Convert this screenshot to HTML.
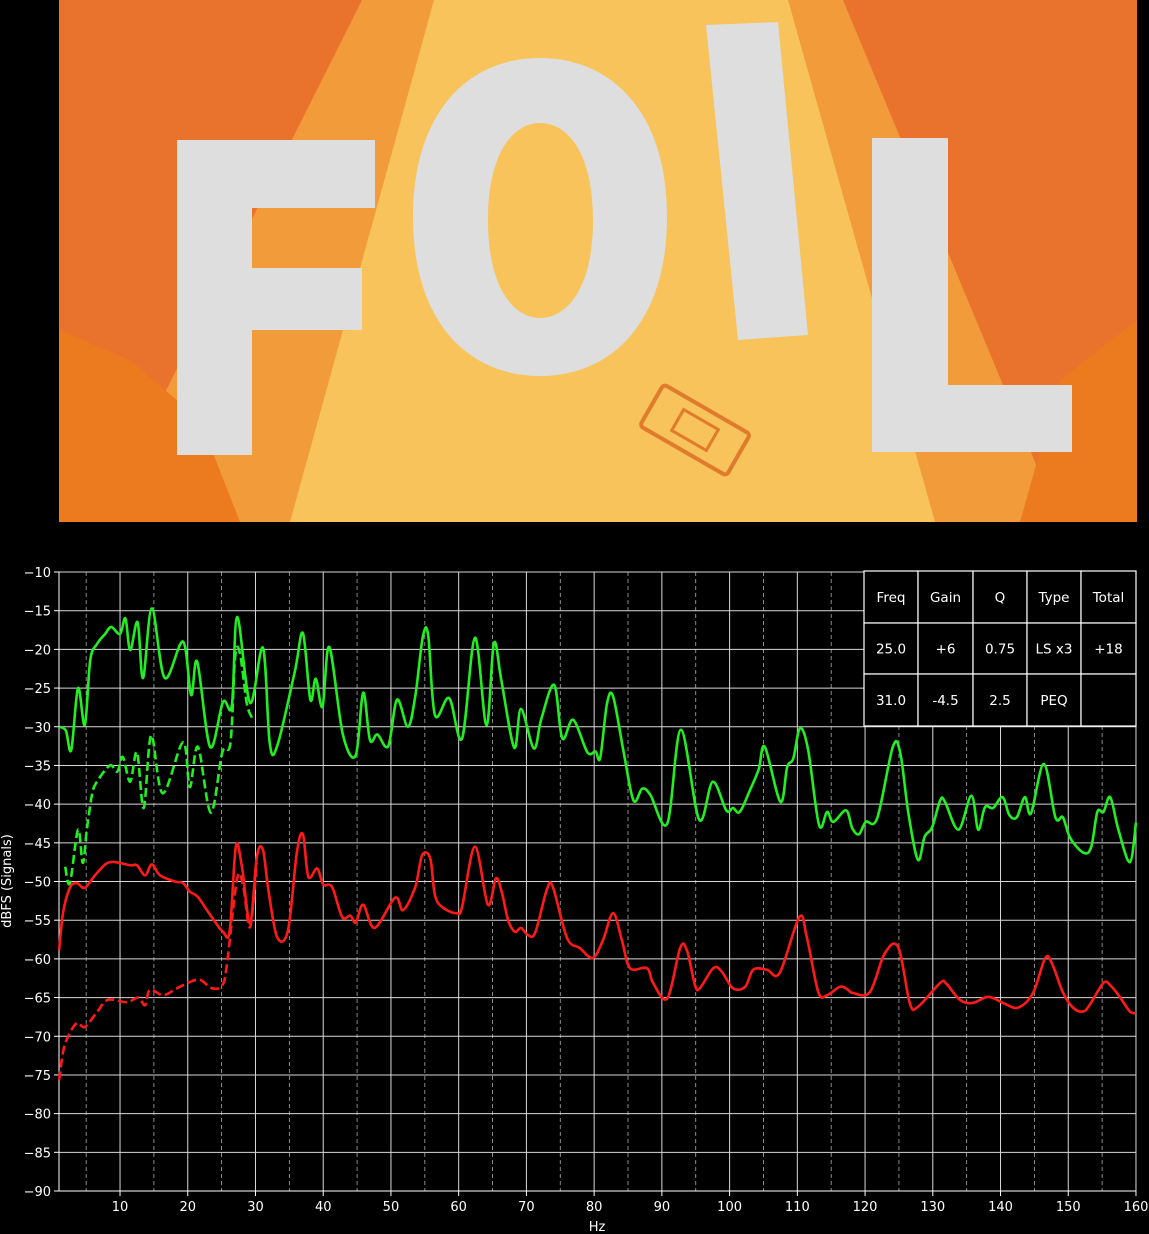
<!DOCTYPE html>
<html><head><meta charset="utf-8">
<style>
html,body{margin:0;padding:0;background:#000;width:1149px;height:1234px;overflow:hidden}
svg{display:block}
text{font-family:"DejaVu Sans","Liberation Sans",sans-serif}
</style></head>
<body>
<svg id="root" width="1149" height="1234" xmlns="http://www.w3.org/2000/svg">
  <defs><clipPath id="imgclip"><rect x="59" y="0" width="1078" height="522"/></clipPath></defs>
  <g clip-path="url(#imgclip)">
    <rect x="59" y="0" width="1078" height="522" fill="#e9722c"/>
    <polygon points="362,0 843,0 1060,522 100,522" fill="#f29b3a"/>
    <polygon points="434,0 788,0 935,522 290,522" fill="#f7c35a"/>
    <polygon points="59,330 130,360 200,420 240,522 59,522" fill="#ec7a1e"/>
    <polygon points="1137,320 1060,380 1020,522 1137,522" fill="#ec7a1e"/>
    <g fill="#dedede">
      <polygon points="177,140 375,140 375,208 252,208 252,268 362,268 362,330 252,330 252,455 177,455"/>
      <path d="M540,58 C610,58 667,110 667,217 C667,324 610,376 540,376 C470,376 413,324 413,217 C413,110 470,58 540,58 Z M540,123 C515,123 488,150 488,220 C488,290 515,318 540,318 C566,318 593,290 593,220 C593,150 566,123 540,123 Z" fill-rule="evenodd"/>
      <polygon points="706,25 778,22 808,335 738,340"/>
      <polygon points="872,138 948,138 948,385 1072,385 1072,452 872,452"/>
    </g>
    <g transform="translate(695,430) rotate(30)">
      <rect x="-50" y="-24" width="100" height="48" rx="4" fill="none" stroke="#e07a2c" stroke-width="4"/>
      <rect x="-20" y="-12" width="40" height="24" fill="none" stroke="#e07a2c" stroke-width="3"/>
    </g>
  </g>
  <g id="chart"></g>
</svg>
<script>
const NS='http://www.w3.org/2000/svg';
const xTicks=[10,20,30,40,50,60,70,80,90,100,110,120,130,140,150,160];
const xMinor=[5,15,25,35,45,55,65,75,85,95,105,115,125,135,145,155];
const yTicks=[-10,-15,-20,-25,-30,-35,-40,-45,-50,-55,-60,-65,-70,-75,-80,-85,-90];
const greenFreq=[1,2,2.8,3.8,4.8,5.6,6.6,7.8,8.7,10,10.8,11.5,12.6,13.4,14.7,16.6,19.3,20.5,21.4,23.3,25.2,26.5,27.3,29.2,31.1,32.1,33.2,35.8,37,38.1,38.9,39.9,40.9,42.9,44.8,45.9,46.9,48,49.6,50.9,52.5,53.6,54.7,55.5,56.5,58.6,60.5,62.4,64.1,65.2,66.3,68.2,69.2,71.1,72.2,74.1,75.3,76.9,79,80.2,80.9,81.9,82.8,84.3,85.8,87.1,88.3,90.8,92.8,95.5,97.5,99.5,100.5,101.5,103,104.3,105.2,107.5,108.5,109.4,110.4,111.6,113.2,114.4,115.3,117.2,118.1,119.1,120.1,121.8,124.1,125.2,126.4,127.8,128.8,129.9,131.1,131.8,133.8,135.7,136.7,137.7,138.9,140.3,141.3,142.4,143.6,144.5,146.4,148.1,149.2,150.3,152.3,153.4,154.3,155.2,156.2,157.4,159.1,160];
const greenDb=[-30,-30.5,-33,-25,-29.8,-21.4,-19.3,-18,-17.1,-18,-16,-20.1,-16.5,-23.7,-14.7,-23.7,-19,-25.9,-21.6,-32.6,-26.8,-27.3,-15.8,-26.9,-19.8,-32.1,-32.5,-22.9,-17.9,-26.5,-23.8,-27.4,-19.7,-31,-33.7,-25.6,-31.7,-31,-32.5,-26.5,-30,-26,-18.4,-18.2,-28.5,-26.3,-31.5,-18.5,-29.8,-19.2,-24,-32.7,-27.7,-32.8,-29,-24.6,-31.5,-29.1,-33.3,-33.2,-34,-27,-26.1,-33,-39.5,-38,-38.8,-42.5,-30.4,-42,-37.1,-40.8,-40.5,-41,-38.2,-35.5,-32.6,-39.7,-35.2,-34.1,-30.2,-33,-42.7,-41,-42.3,-40.8,-43.1,-43.9,-42.3,-41.8,-32.6,-33.4,-41.2,-47.2,-44.2,-43,-39.5,-39.7,-43.3,-38.9,-43.3,-40.4,-40.5,-39.1,-41.4,-41.7,-39.1,-41.2,-34.8,-41.7,-41.7,-44.4,-46.3,-45.5,-41,-41,-39.1,-43.3,-47.5,-42.4];
const greenDashFreq=[1.9,2.6,3.8,4.5,5.1,5.9,6.6,8.5,9.6,10.4,11.5,12.5,13.5,14.6,16.3,19.3,20.3,21.5,23.4,25.1,26.3,27,27.7,28.7,29.5];
const greenDashDb=[-48.1,-50.2,-43.3,-47.6,-43.3,-38.6,-37.1,-35,-35.8,-33.9,-37.1,-33.3,-40.5,-31.1,-38.6,-32,-37.8,-32.6,-41.1,-33.3,-32.1,-21,-20.5,-26.9,-28.9];
const redFreq=[1,1.6,2.6,3.6,4.8,6.5,8.5,11.5,12.5,13.7,14.7,15.9,18.1,19.3,20.3,21.5,23.3,25.2,26.2,27.1,28,29.2,30.2,31.1,31.9,33.2,34.8,36.1,37,37.8,39.1,40,41.3,42.8,44,44.8,45.9,47.6,50.6,51.8,53.6,54.6,55.8,56.5,57.7,59.7,60.5,62.4,64.3,65.5,66.4,67.3,68.3,69.2,70.2,71.3,73,73.9,76,77.9,79.8,81.3,82.8,84.1,85.3,87.8,88.7,90.8,92.7,93.7,94.9,95.6,97.6,98.8,100.5,102.3,103.5,105.5,107.4,110.3,111.4,113.1,114.4,116.3,117.5,118.2,120.7,122.9,124.9,126.6,127.8,131.1,132,134,135.9,138.2,140.4,142.6,144.8,146.6,147.6,149.2,150.7,152.2,153.2,155.2,156.2,157.6,159.1,160];
const redDb=[-58.9,-54,-50.8,-50.2,-50.8,-49,-47.5,-47.9,-47.9,-49.2,-47.8,-49.2,-50,-50.2,-51.3,-52,-54.3,-56.5,-56.3,-45.5,-48.1,-55.4,-46.8,-45.9,-51.1,-57.2,-56.3,-46.3,-43.9,-49.4,-48.3,-50.4,-50.7,-54.6,-54.4,-55.3,-53,-56,-52.1,-53.7,-50.7,-46.6,-47,-51.8,-53.4,-54.1,-53.3,-45.5,-53,-49.6,-51.5,-55,-56.5,-56,-56.9,-56.6,-51.1,-50.7,-57.3,-58.6,-59.9,-57.6,-54.1,-57.6,-61.2,-61.2,-63.1,-65.1,-58.6,-58.9,-63.4,-63.8,-61.2,-61.6,-63.8,-63.6,-61.4,-61.4,-61.8,-54.6,-57.2,-64.3,-64.7,-63.6,-64,-64.4,-64.3,-59.3,-58.5,-65.7,-66.2,-63.1,-63.2,-65.3,-65.7,-64.9,-65.7,-66.3,-64.4,-59.9,-60.6,-64.3,-66.3,-66.8,-65.9,-63.1,-63.4,-64.9,-66.8,-67];
const redDashFreq=[1,1.6,2.3,3.6,4.8,6.5,8.2,11,12.7,13.7,14.4,16.4,18.4,20.3,21.8,23.6,25.1,25.8,27.3,28.2,29.2,30.2];
const redDashDb=[-75.7,-72,-70.1,-68.3,-68.8,-67,-65.3,-65.6,-65,-66,-64,-64.7,-63.8,-63,-62.7,-63.8,-63.4,-60.6,-49.6,-50.7,-55.9,-47.6];
const tableRows=[["Freq","Gain","Q","Type","Total"],["25.0","+6","0.75","LS x3","+18"],["31.0","-4.5","2.5","PEQ",""]];

const L=59,R=1136,T=572,B=1191;
const xs=f=>52.3+(f)*6.773;
const ys=v=>T+(-10-v)*(B-T)/80;
const g=document.getElementById('chart');
function el(tag,attrs,parent){const e=document.createElementNS(NS,tag);for(const k in attrs)e.setAttribute(k,attrs[k]);(parent||g).appendChild(e);return e;}

xMinor.forEach(f=>{const l=el('line',{x1:xs(f),x2:xs(f),y1:T,y2:B,stroke:'#aaa','stroke-width':0.8,'stroke-dasharray':'4,3'});

});
xTicks.forEach(f=>{const l=el('line',{x1:xs(f),x2:xs(f),y1:T,y2:B,stroke:'#d8d8d8','stroke-width':1});


el('line',{x1:xs(f),x2:xs(f),y1:B,y2:B+5,stroke:'#fff','stroke-width':1});
const t=el('text',{x:xs(f),y:B+20,'font-size':13,fill:'#fff','text-anchor':'middle'});t.textContent=f;

});
yTicks.forEach(v=>{const l=el('line',{x1:L,x2:R,y1:ys(v),y2:ys(v),stroke:'#d8d8d8','stroke-width':1});


el('line',{x1:L-5,x2:L,y1:ys(v),y2:ys(v),stroke:'#fff','stroke-width':1});
const t=el('text',{x:L-8,y:ys(v)+5,'font-size':13,fill:'#fff','text-anchor':'end'});t.textContent='\u2212'+Math.abs(v);

});
el('line',{x1:L,x2:L,y1:T,y2:B,stroke:'#fff','stroke-width':1});
el('line',{x1:L,x2:R,y1:B,y2:B,stroke:'#fff','stroke-width':1});

function curve(fx,dv,color,dash,name){
  const p=fx.map((f,i)=>[xs(f),ys(dv[i])]);
  let d='M'+p[0][0]+','+p[0][1];
  for(let i=0;i<p.length-1;i++){
    const p0=p[Math.max(0,i-1)],p1=p[i],p2=p[i+1],p3=p[Math.min(p.length-1,i+2)];
    const c1=[p1[0]+(p2[0]-p0[0])/6,p1[1]+(p2[1]-p0[1])/6];
    const c2=[p2[0]-(p3[0]-p1[0])/6,p2[1]-(p3[1]-p1[1])/6];
    d+=` C${c1[0]},${c1[1]} ${c2[0]},${c2[1]} ${p2[0]},${p2[1]}`;
  }
  const a={d:d,fill:'none',stroke:color,'stroke-width':2.6,'stroke-linejoin':'round'};
  if(dash)a['stroke-dasharray']='9,4';
  const e=el('path',a);
  
  
}
curve(greenDashFreq,greenDashDb,'#22ee22',true,'green-dashed-series');
curve(redDashFreq,redDashDb,'#ff1a1a',true,'red-dashed-series');
curve(greenFreq,greenDb,'#22ee22',false,'green-series');
curve(redFreq,redDb,'#ff1a1a',false,'red-series');

const colX=[864,918,973,1027,1081,1136],rowY=[571,623,674,726];
const tb=el('g',{});


tableRows.forEach((row,r)=>row.forEach((txt,c)=>{
  el('rect',{x:colX[c],y:rowY[r],width:colX[c+1]-colX[c],height:rowY[r+1]-rowY[r],fill:'#000',stroke:'#fff','stroke-width':1.2},tb);
  const t=el('text',{x:(colX[c]+colX[c+1])/2,y:(rowY[r]+rowY[r+1])/2+5,'font-size':13.5,fill:'#fff','text-anchor':'middle'},tb);
  t.textContent=txt;
  
  
}));
const xl=el('text',{x:597,y:1231,'font-size':13,fill:'#fff','text-anchor':'middle'});xl.textContent='Hz';


const yl=el('text',{x:0,y:0,'font-size':13,fill:'#fff','text-anchor':'middle',transform:'translate(11,881) rotate(-90)'});yl.textContent='dBFS (Signals)';


</script>
</body></html>
